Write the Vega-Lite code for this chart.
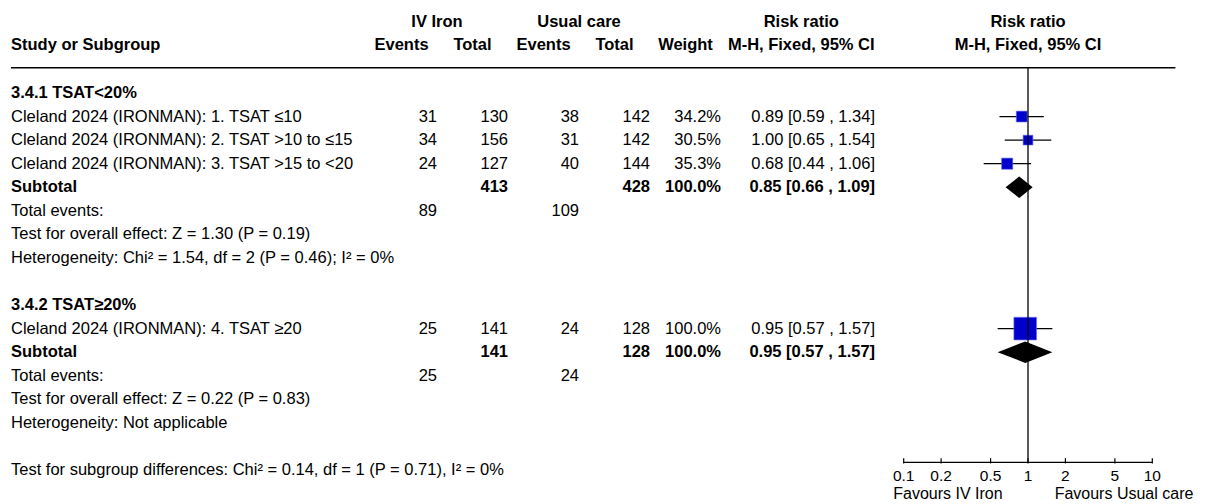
{
  "$schema": "https://vega.github.io/schema/vega-lite/v6.json",
  "width": 1211,
  "height": 504,
  "padding": 0,
  "autosize": {"type": "none"},
  "background": "white",
  "config": {
    "view": {"stroke": null},
    "text": {"font": "Liberation Sans", "fontSize": 16.5, "color": "black"}
  },
  "datasets": {
    "rows": [
      {"row": 0, "kind": "group", "label": "3.4.1 TSAT<20%"},
      {"row": 1, "kind": "study", "label": "Cleland 2024 (IRONMAN): 1. TSAT ≤10", "e1": 31, "t1": 130, "e2": 38, "t2": 142, "w": "34.2%", "ci": "0.89 [0.59 , 1.34]", "weight": 34.2, "rr": 0.89, "lo": 0.59, "hi": 1.34},
      {"row": 2, "kind": "study", "label": "Cleland 2024 (IRONMAN): 2. TSAT >10 to ≤15", "e1": 34, "t1": 156, "e2": 31, "t2": 142, "w": "30.5%", "ci": "1.00 [0.65 , 1.54]", "weight": 30.5, "rr": 1.0, "lo": 0.65, "hi": 1.54},
      {"row": 3, "kind": "study", "label": "Cleland 2024 (IRONMAN): 3. TSAT >15 to <20", "e1": 24, "t1": 127, "e2": 40, "t2": 144, "w": "35.3%", "ci": "0.68 [0.44 , 1.06]", "weight": 35.3, "rr": 0.68, "lo": 0.44, "hi": 1.06},
      {"row": 4, "kind": "total", "label": "Subtotal", "t1": 413, "t2": 428, "w": "100.0%", "ci": "0.85 [0.66 , 1.09]", "rr": 0.85, "lo": 0.66, "hi": 1.09},
      {"row": 5, "kind": "note", "label": "Total events:", "e1": 89, "e2": 109},
      {"row": 6, "kind": "note", "label": "Test for overall effect: Z = 1.30 (P = 0.19)"},
      {"row": 7, "kind": "note", "label": "Heterogeneity: Chi² = 1.54, df = 2 (P = 0.46); I² = 0%"},
      {"row": 9, "kind": "group", "label": "3.4.2 TSAT≥20%"},
      {"row": 10, "kind": "study", "label": "Cleland 2024 (IRONMAN): 4. TSAT ≥20", "e1": 25, "t1": 141, "e2": 24, "t2": 128, "w": "100.0%", "ci": "0.95 [0.57 , 1.57]", "weight": 100, "rr": 0.95, "lo": 0.57, "hi": 1.57},
      {"row": 11, "kind": "total", "label": "Subtotal", "t1": 141, "t2": 128, "w": "100.0%", "ci": "0.95 [0.57 , 1.57]", "rr": 0.95, "lo": 0.57, "hi": 1.57},
      {"row": 12, "kind": "note", "label": "Total events:", "e1": 25, "e2": 24},
      {"row": 13, "kind": "note", "label": "Test for overall effect: Z = 0.22 (P = 0.83)"},
      {"row": 14, "kind": "note", "label": "Heterogeneity: Not applicable"},
      {"row": 16, "kind": "note", "label": "Test for subgroup differences: Chi² = 0.14, df = 1 (P = 0.71), I² = 0%"}
    ],
    "ticks": [
      {"v": 0.1, "lab": "0.1"}, {"v": 0.2, "lab": "0.2"}, {"v": 0.5, "lab": "0.5"},
      {"v": 1, "lab": "1"}, {"v": 2, "lab": "2"}, {"v": 5, "lab": "5"}, {"v": 10, "lab": "10"}
    ],
    "one": [{}]
  },
  "resolve": {"scale": {"x": "independent"}},
  "layer": [
    {
      "layer": [
        {
          "data": {"name": "rows"},
          "mark": {"type": "text", "align": "left", "baseline": "middle", "fontWeight": {"expr": "datum.kind === 'group' || datum.kind === 'total' ? 'bold' : 'normal'"}},
          "encoding": {
            "x": {"datum": -6, "type": "quantitative", "scale": {"domain": [0, 4], "range": [437, 721], "nice": false, "zero": false}, "axis": null},
            "y": {"field": "row", "type": "quantitative", "scale": {"domain": [0, 16], "range": [93, 470], "nice": false, "zero": false}, "axis": null},
            "text": {"field": "label", "type": "nominal"}
          }
        },
        {
          "data": {"name": "rows"},
          "transform": [{"filter": "isValid(datum.e1)"}],
          "mark": {"type": "text", "align": "right", "baseline": "middle", "fontWeight": {"expr": "datum.kind === 'total' ? 'bold' : 'normal'"}},
          "encoding": {
            "x": {"datum": 0, "type": "quantitative", "scale": {"domain": [0, 4], "range": [437, 721], "nice": false, "zero": false}, "axis": null},
            "y": {"field": "row", "type": "quantitative", "scale": {"domain": [0, 16], "range": [93, 470], "nice": false, "zero": false}, "axis": null},
            "text": {"field": "e1", "type": "nominal"}
          }
        },
        {
          "data": {"name": "rows"},
          "transform": [{"filter": "isValid(datum.t1)"}],
          "mark": {"type": "text", "align": "right", "baseline": "middle", "fontWeight": {"expr": "datum.kind === 'total' ? 'bold' : 'normal'"}},
          "encoding": {
            "x": {"datum": 1, "type": "quantitative", "scale": {"domain": [0, 4], "range": [437, 721], "nice": false, "zero": false}, "axis": null},
            "y": {"field": "row", "type": "quantitative", "scale": {"domain": [0, 16], "range": [93, 470], "nice": false, "zero": false}, "axis": null},
            "text": {"field": "t1", "type": "nominal"}
          }
        },
        {
          "data": {"name": "rows"},
          "transform": [{"filter": "isValid(datum.e2)"}],
          "mark": {"type": "text", "align": "right", "baseline": "middle", "fontWeight": {"expr": "datum.kind === 'total' ? 'bold' : 'normal'"}},
          "encoding": {
            "x": {"datum": 2, "type": "quantitative", "scale": {"domain": [0, 4], "range": [437, 721], "nice": false, "zero": false}, "axis": null},
            "y": {"field": "row", "type": "quantitative", "scale": {"domain": [0, 16], "range": [93, 470], "nice": false, "zero": false}, "axis": null},
            "text": {"field": "e2", "type": "nominal"}
          }
        },
        {
          "data": {"name": "rows"},
          "transform": [{"filter": "isValid(datum.t2)"}],
          "mark": {"type": "text", "align": "right", "baseline": "middle", "fontWeight": {"expr": "datum.kind === 'total' ? 'bold' : 'normal'"}},
          "encoding": {
            "x": {"datum": 3, "type": "quantitative", "scale": {"domain": [0, 4], "range": [437, 721], "nice": false, "zero": false}, "axis": null},
            "y": {"field": "row", "type": "quantitative", "scale": {"domain": [0, 16], "range": [93, 470], "nice": false, "zero": false}, "axis": null},
            "text": {"field": "t2", "type": "nominal"}
          }
        },
        {
          "data": {"name": "rows"},
          "transform": [{"filter": "isValid(datum.w)"}],
          "mark": {"type": "text", "align": "right", "baseline": "middle", "fontWeight": {"expr": "datum.kind === 'total' ? 'bold' : 'normal'"}},
          "encoding": {
            "x": {"datum": 4, "type": "quantitative", "scale": {"domain": [0, 4], "range": [437, 721], "nice": false, "zero": false}, "axis": null},
            "y": {"field": "row", "type": "quantitative", "scale": {"domain": [0, 16], "range": [93, 470], "nice": false, "zero": false}, "axis": null},
            "text": {"field": "w", "type": "nominal"}
          }
        },
        {
          "data": {"name": "rows"},
          "transform": [{"filter": "isValid(datum.ci)"}],
          "mark": {"type": "text", "align": "right", "baseline": "middle", "fontWeight": {"expr": "datum.kind === 'total' ? 'bold' : 'normal'"}},
          "encoding": {
            "x": {"datum": 6.17, "type": "quantitative", "scale": {"domain": [0, 4], "range": [437, 721], "nice": false, "zero": false}, "axis": null},
            "y": {"field": "row", "type": "quantitative", "scale": {"domain": [0, 16], "range": [93, 470], "nice": false, "zero": false}, "axis": null},
            "text": {"field": "ci", "type": "nominal"}
          }
        },
        {
          "data": {"name": "one"},
          "mark": {"type": "rule", "color": "black", "strokeWidth": 1.5},
          "encoding": {
            "x": {"datum": -6, "type": "quantitative", "scale": {"domain": [0, 4], "range": [437, 721], "nice": false, "zero": false}, "axis": null},
            "x2": {"datum": 10.4},
            "y": {"datum": -1.07, "type": "quantitative", "scale": {"domain": [0, 16], "range": [93, 470], "nice": false, "zero": false}, "axis": null}
          }
        },
        {
          "data": {"name": "one"},
          "mark": {"type": "text", "align": "left", "baseline": "middle", "fontWeight": "bold", "text": "Study or Subgroup"},
          "encoding": {
            "x": {"datum": -6, "type": "quantitative", "scale": {"domain": [0, 4], "range": [437, 721], "nice": false, "zero": false}, "axis": null},
            "y": {"datum": -2.05, "type": "quantitative", "scale": {"domain": [0, 16], "range": [93, 470], "nice": false, "zero": false}, "axis": null}
          }
        },
        {
          "data": {"name": "one"},
          "mark": {"type": "text", "align": "center", "baseline": "middle", "fontWeight": "bold", "text": "IV Iron"},
          "encoding": {
            "x": {"datum": 0, "type": "quantitative", "scale": {"domain": [0, 4], "range": [437, 721], "nice": false, "zero": false}, "axis": null},
            "y": {"datum": -3, "type": "quantitative", "scale": {"domain": [0, 16], "range": [93, 470], "nice": false, "zero": false}, "axis": null}
          }
        },
        {
          "data": {"name": "one"},
          "mark": {"type": "text", "align": "center", "baseline": "middle", "fontWeight": "bold", "text": "Usual care"},
          "encoding": {
            "x": {"datum": 2, "type": "quantitative", "scale": {"domain": [0, 4], "range": [437, 721], "nice": false, "zero": false}, "axis": null},
            "y": {"datum": -3, "type": "quantitative", "scale": {"domain": [0, 16], "range": [93, 470], "nice": false, "zero": false}, "axis": null}
          }
        },
        {
          "data": {"name": "one"},
          "mark": {"type": "text", "align": "center", "baseline": "middle", "fontWeight": "bold", "text": "Risk ratio"},
          "encoding": {
            "x": {"datum": 5.13, "type": "quantitative", "scale": {"domain": [0, 4], "range": [437, 721], "nice": false, "zero": false}, "axis": null},
            "y": {"datum": -3, "type": "quantitative", "scale": {"domain": [0, 16], "range": [93, 470], "nice": false, "zero": false}, "axis": null}
          }
        },
        {
          "data": {"name": "one"},
          "mark": {"type": "text", "align": "center", "baseline": "middle", "fontWeight": "bold", "text": "Events"},
          "encoding": {
            "x": {"datum": -0.5, "type": "quantitative", "scale": {"domain": [0, 4], "range": [437, 721], "nice": false, "zero": false}, "axis": null},
            "y": {"datum": -2.05, "type": "quantitative", "scale": {"domain": [0, 16], "range": [93, 470], "nice": false, "zero": false}, "axis": null}
          }
        },
        {
          "data": {"name": "one"},
          "mark": {"type": "text", "align": "center", "baseline": "middle", "fontWeight": "bold", "text": "Total"},
          "encoding": {
            "x": {"datum": 0.5, "type": "quantitative", "scale": {"domain": [0, 4], "range": [437, 721], "nice": false, "zero": false}, "axis": null},
            "y": {"datum": -2.05, "type": "quantitative", "scale": {"domain": [0, 16], "range": [93, 470], "nice": false, "zero": false}, "axis": null}
          }
        },
        {
          "data": {"name": "one"},
          "mark": {"type": "text", "align": "center", "baseline": "middle", "fontWeight": "bold", "text": "Events"},
          "encoding": {
            "x": {"datum": 1.5, "type": "quantitative", "scale": {"domain": [0, 4], "range": [437, 721], "nice": false, "zero": false}, "axis": null},
            "y": {"datum": -2.05, "type": "quantitative", "scale": {"domain": [0, 16], "range": [93, 470], "nice": false, "zero": false}, "axis": null}
          }
        },
        {
          "data": {"name": "one"},
          "mark": {"type": "text", "align": "center", "baseline": "middle", "fontWeight": "bold", "text": "Total"},
          "encoding": {
            "x": {"datum": 2.5, "type": "quantitative", "scale": {"domain": [0, 4], "range": [437, 721], "nice": false, "zero": false}, "axis": null},
            "y": {"datum": -2.05, "type": "quantitative", "scale": {"domain": [0, 16], "range": [93, 470], "nice": false, "zero": false}, "axis": null}
          }
        },
        {
          "data": {"name": "one"},
          "mark": {"type": "text", "align": "center", "baseline": "middle", "fontWeight": "bold", "text": "Weight"},
          "encoding": {
            "x": {"datum": 3.5, "type": "quantitative", "scale": {"domain": [0, 4], "range": [437, 721], "nice": false, "zero": false}, "axis": null},
            "y": {"datum": -2.05, "type": "quantitative", "scale": {"domain": [0, 16], "range": [93, 470], "nice": false, "zero": false}, "axis": null}
          }
        },
        {
          "data": {"name": "one"},
          "mark": {"type": "text", "align": "center", "baseline": "middle", "fontWeight": "bold", "text": "M-H, Fixed, 95% CI"},
          "encoding": {
            "x": {"datum": 5.13, "type": "quantitative", "scale": {"domain": [0, 4], "range": [437, 721], "nice": false, "zero": false}, "axis": null},
            "y": {"datum": -2.05, "type": "quantitative", "scale": {"domain": [0, 16], "range": [93, 470], "nice": false, "zero": false}, "axis": null}
          }
        }
      ]
    },
    {
      "layer": [
        {
          "data": {"name": "rows"},
          "transform": [{"filter": "datum.kind === 'study'"}],
          "mark": {"type": "rule", "color": "black", "strokeWidth": 1.2},
          "encoding": {
            "x": {"field": "lo", "type": "quantitative", "scale": {"type": "log", "domain": [0.1, 10], "range": [903.7, 1152.3], "nice": false}, "axis": null},
            "x2": {"field": "hi"},
            "y": {"field": "row", "type": "quantitative", "scale": {"domain": [0, 16], "range": [93, 470], "nice": false, "zero": false}, "axis": null}
          }
        },
        {
          "data": {"name": "rows"},
          "transform": [{"filter": "datum.kind === 'study'"}],
          "mark": {"type": "point", "shape": "square", "filled": true, "color": "#0000CC", "stroke": "#7070ff", "strokeWidth": 0.6, "opacity": 1},
          "encoding": {
            "x": {"field": "rr", "type": "quantitative", "scale": {"type": "log", "domain": [0.1, 10], "range": [903.7, 1152.3], "nice": false}, "axis": null},
            "y": {"field": "row", "type": "quantitative", "scale": {"domain": [0, 16], "range": [93, 470], "nice": false, "zero": false}, "axis": null},
            "size": {"field": "weight", "type": "quantitative", "scale": {"domain": [32, 100], "range": [105, 515], "zero": false}, "legend": null}
          }
        },
        {
          "data": {"name": "rows"},
          "transform": [
            {"filter": "datum.kind === 'total'"},
            {"fold": ["lo", "rr", "hi"], "as": ["pt", "val"]}
          ],
          "mark": {"type": "area", "color": "black", "opacity": 1, "yOffset": {"expr": "datum.pt === 'rr' ? -10.7 : 0"}, "y2Offset": {"expr": "datum.pt === 'rr' ? 10.7 : 0"}},
          "encoding": {
            "x": {"field": "val", "type": "quantitative", "scale": {"type": "log", "domain": [0.1, 10], "range": [903.7, 1152.3], "nice": false}, "axis": null},
            "y": {"field": "row", "type": "quantitative", "stack": null, "scale": {"domain": [0, 16], "range": [93, 470], "nice": false, "zero": false}, "axis": null},
            "y2": {"field": "row"},
            "detail": {"field": "row", "type": "nominal"}
          }
        },
        {
          "data": {"name": "one"},
          "mark": {"type": "rule", "color": "black", "strokeWidth": 1.3},
          "encoding": {
            "x": {"datum": 1, "type": "quantitative", "scale": {"type": "log", "domain": [0.1, 10], "range": [903.7, 1152.3], "nice": false}, "axis": null},
            "y": {"datum": -1.07, "type": "quantitative", "scale": {"domain": [0, 16], "range": [93, 470], "nice": false, "zero": false}, "axis": null},
            "y2": {"datum": 15.68}
          }
        },
        {
          "data": {"name": "one"},
          "mark": {"type": "rule", "color": "black", "strokeWidth": 1.2},
          "encoding": {
            "x": {"datum": 0.1, "type": "quantitative", "scale": {"type": "log", "domain": [0.1, 10], "range": [903.7, 1152.3], "nice": false}, "axis": null},
            "x2": {"datum": 10},
            "y": {"datum": 15.68, "type": "quantitative", "scale": {"domain": [0, 16], "range": [93, 470], "nice": false, "zero": false}, "axis": null}
          }
        },
        {
          "data": {"name": "ticks"},
          "mark": {"type": "rule", "color": "black", "strokeWidth": 1.2},
          "encoding": {
            "x": {"field": "v", "type": "quantitative", "scale": {"type": "log", "domain": [0.1, 10], "range": [903.7, 1152.3], "nice": false}, "axis": null},
            "y": {"datum": 15.5, "type": "quantitative", "scale": {"domain": [0, 16], "range": [93, 470], "nice": false, "zero": false}, "axis": null},
            "y2": {"datum": 15.72}
          }
        },
        {
          "data": {"name": "ticks"},
          "mark": {"type": "text", "align": "center", "baseline": "middle", "fontSize": 15.5},
          "encoding": {
            "x": {"field": "v", "type": "quantitative", "scale": {"type": "log", "domain": [0.1, 10], "range": [903.7, 1152.3], "nice": false}, "axis": null},
            "y": {"datum": 16.26, "type": "quantitative", "scale": {"domain": [0, 16], "range": [93, 470], "nice": false, "zero": false}, "axis": null},
            "text": {"field": "lab", "type": "nominal"}
          }
        },
        {
          "data": {"name": "one"},
          "mark": {"type": "text", "align": "center", "baseline": "middle", "fontSize": 16, "text": "Favours IV Iron"},
          "encoding": {
            "x": {"datum": 0.227, "type": "quantitative", "scale": {"type": "log", "domain": [0.1, 10], "range": [903.7, 1152.3], "nice": false}, "axis": null},
            "y": {"datum": 17.02, "type": "quantitative", "scale": {"domain": [0, 16], "range": [93, 470], "nice": false, "zero": false}, "axis": null}
          }
        },
        {
          "data": {"name": "one"},
          "mark": {"type": "text", "align": "center", "baseline": "middle", "fontSize": 16, "text": "Favours Usual care"},
          "encoding": {
            "x": {"datum": 5.92, "type": "quantitative", "scale": {"type": "log", "domain": [0.1, 10], "range": [903.7, 1152.3], "nice": false}, "axis": null},
            "y": {"datum": 17.02, "type": "quantitative", "scale": {"domain": [0, 16], "range": [93, 470], "nice": false, "zero": false}, "axis": null}
          }
        },
        {
          "data": {"name": "one"},
          "mark": {"type": "text", "align": "center", "baseline": "middle", "fontWeight": "bold", "text": "Risk ratio"},
          "encoding": {
            "x": {"datum": 1, "type": "quantitative", "scale": {"type": "log", "domain": [0.1, 10], "range": [903.7, 1152.3], "nice": false}, "axis": null},
            "y": {"datum": -3, "type": "quantitative", "scale": {"domain": [0, 16], "range": [93, 470], "nice": false, "zero": false}, "axis": null}
          }
        },
        {
          "data": {"name": "one"},
          "mark": {"type": "text", "align": "center", "baseline": "middle", "fontWeight": "bold", "text": "M-H, Fixed, 95% CI"},
          "encoding": {
            "x": {"datum": 1, "type": "quantitative", "scale": {"type": "log", "domain": [0.1, 10], "range": [903.7, 1152.3], "nice": false}, "axis": null},
            "y": {"datum": -2.05, "type": "quantitative", "scale": {"domain": [0, 16], "range": [93, 470], "nice": false, "zero": false}, "axis": null}
          }
        }
      ]
    }
  ]
}
